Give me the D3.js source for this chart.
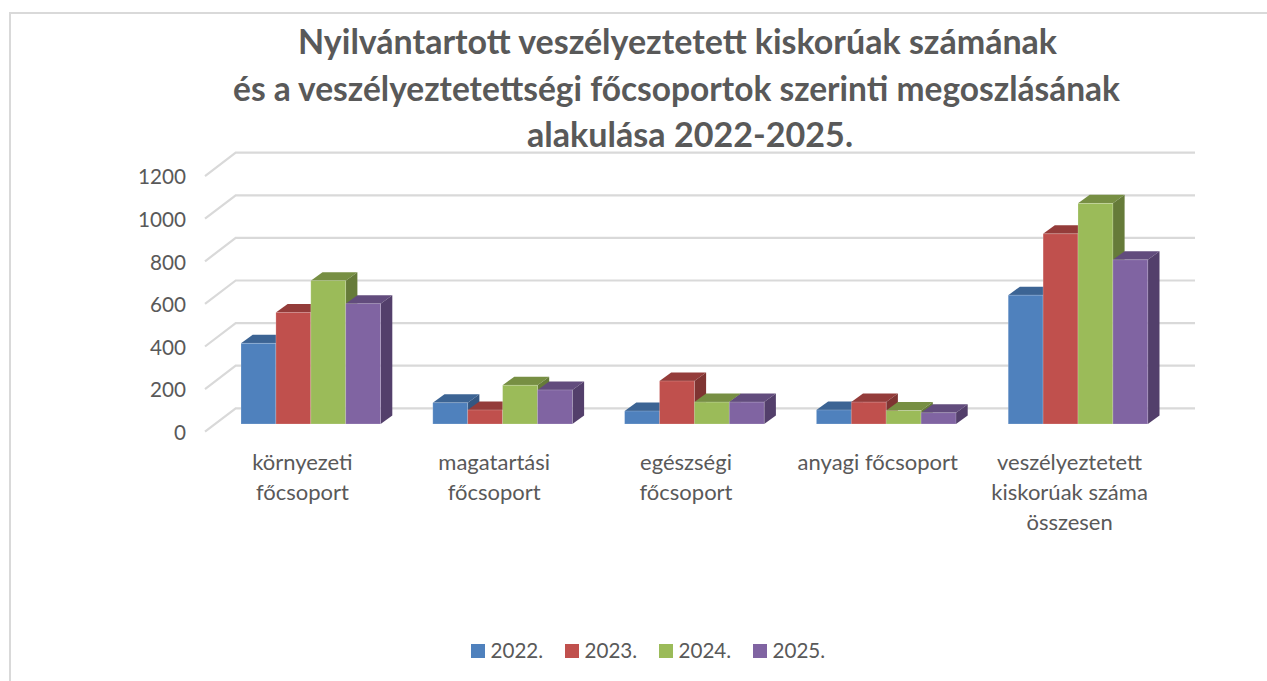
<!DOCTYPE html>
<html><head><meta charset="utf-8">
<style>html,body{margin:0;padding:0;background:#fff}svg{display:block}</style>
<script src="https://cdn.jsdelivr.net/npm/d3@7/dist/d3.min.js"></script>
</head><body><svg id="c" width="1267" height="681"></svg>
<script>
const categories = [["környezeti","főcsoport"],["magatartási","főcsoport"],["egészségi","főcsoport"],["anyagi főcsoport"],["veszélyeztetett","kiskorúak száma","összesen"]];
const seriesNames = ["2022.","2023.","2024.","2025."];
const v2022 = [379,100,61,66,605];
const v2023 = [524,66,202,103,893];
const v2024 = [673,182,103,63,1036];
const v2025 = [565,160,103,53,771];
const yTicks = [0,200,400,600,800,1000,1200];
const titleLines = ["Nyilvántartott veszélyeztetett kiskorúak számának","és a veszélyeztetettségi főcsoportok szerinti megoszlásának","alakulása 2022-2025."];
const titleCenters = [677.5,676.5,690];
const titleWidths = [759,887,326];
const front = ["#4f81bd","#c0504d","#9bbb59","#8064a2"];
const topC = ["#3c6494","#943c3a","#778f43","#624c7d"];
const sideC = ["#345782","#7f3432","#667b39","#533f6b"];
const all = [v2022,v2023,v2024,v2025];

const font = "Lato, Carlito, 'Open Sans', sans-serif";
const svg = d3.select("#c");
svg.append("path").attr("d","M10,681V13H1267").attr("fill","none").attr("stroke","#d9d9d9").attr("stroke-width",2);

const floorFront = 431.7, floorBack = 408.3, dx = 30.7, dyWall = floorFront-floorBack;
const x = d3.scaleBand().domain(d3.range(categories.length)).range([205,1164]);
const y = d3.scaleLinear().domain([0,1200]).range([floorFront,floorFront-255.6]);
const yBar = d3.scaleLinear().domain([0,1200]).range([424,424-255.6]);
const inner = d3.scaleBand().domain(d3.range(4)).range([0,139.6]);
const barShift = 36, depthX = 11.7, depthY = 8.5;

// walls
const g = svg.append("g").attr("fill","none").attr("stroke","#d9d9d9").attr("stroke-width",2.2);
yTicks.forEach(t=>{
  g.append("path").attr("d",`M205,${y(t)}L${205+dx},${y(t)-dyWall}H${1164+dx+0.3}`);
});
// tick labels
svg.append("g").selectAll("text").data(yTicks).join("text")
  .attr("x",186).attr("y",d=>y(d)+1).attr("dy","0.35em").attr("text-anchor","end")
  .attr("font-family",font).attr("font-size",20.7).attr("fill","#595959").text(d=>d);
// bars
const bars = svg.append("g");
categories.forEach((c,i)=>{
  all.forEach((s,k)=>{
    const x0 = x(i)+barShift+inner(k), w = inner.bandwidth();
    const top = yBar(s[i]), base = yBar(0), g1 = bars.append("g");
    g1.append("path").attr("fill",topC[k])
      .attr("d",`M${x0},${top}l${depthX},${-depthY}h${w}l${-depthX},${depthY}Z`);
    g1.append("path").attr("fill",sideC[k])
      .attr("d",`M${x0+w},${top}l${depthX},${-depthY}V${base-depthY}l${-depthX},${depthY}Z`);
    g1.append("rect").attr("x",x0).attr("y",top).attr("width",w).attr("height",base-top)
      .attr("fill",front[k]).attr("stroke","#fff").attr("stroke-opacity",0.25).attr("stroke-width",0.8);
  });
});
// category labels
categories.forEach((lines,i)=>{
  const t = svg.append("text").attr("text-anchor","middle").attr("font-family",font)
    .attr("font-size",22).attr("fill","#595959").attr("y",470);
  lines.forEach((l,j)=>t.append("tspan").attr("x",x(i)+x.bandwidth()/2+1.5).attr("dy",j?30:0).text(l));
});
// title
titleLines.forEach((l,j)=>svg.append("text").attr("text-anchor","middle").attr("font-family",font)
  .attr("font-size",34).attr("font-weight",700).attr("fill","#595959")
  .attr("x",titleCenters[j]).attr("y",54+j*46.5)
  .attr("textLength",titleWidths[j]).attr("lengthAdjust","spacingAndGlyphs").text(l));
// legend
const lx = [471,565,659,753];
const leg = svg.append("g");
seriesNames.forEach((n,k)=>{
  leg.append("rect").attr("x",lx[k]).attr("y",644).attr("width",14).attr("height",14).attr("fill",front[k]);
  leg.append("text").attr("x",lx[k]+19.5).attr("y",658).attr("font-family",font).attr("font-size",20.6).attr("fill","#595959").text(n);
});
</script></body></html>
